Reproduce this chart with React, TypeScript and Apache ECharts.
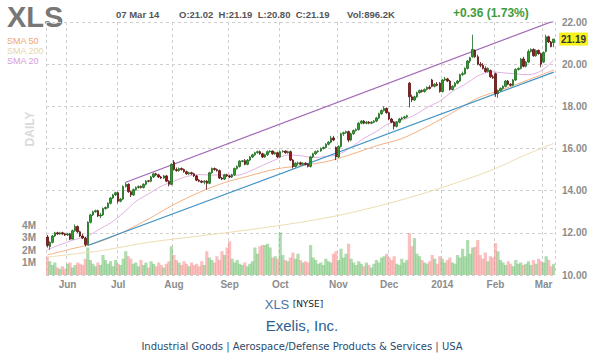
import React, { useEffect, useRef } from "react";
import * as echarts from "echarts";

// ---------- DATA ----------
const START = "2013-05-21";
const END = "2014-03-07";
const HOLIDAYS = ["2013-05-27", "2013-07-04", "2013-09-02", "2013-11-28", "2013-12-25", "2014-01-01", "2014-01-20", "2014-02-17"];
const MONTHS = ["Jan", "Feb", "Mar", "Apr", "May", "Jun", "Jul", "Aug", "Sep", "Oct", "Nov", "Dec"];

const opens = [
  11.80, 11.35, 11.55, 11.85, 12.00, 11.95, 12.00, 11.95, 11.90, 11.95,
  11.70, 12.10, 12.30, 12.05, 11.85, 11.75, 11.45, 12.50, 12.85, 13.00,
  13.05, 12.80, 12.85, 13.15, 13.20, 13.40, 13.65, 13.80, 13.90, 13.50,
  13.60, 14.20, 14.30, 13.95, 13.80, 14.05, 14.15, 14.20, 14.15, 14.30,
  14.47, 14.45, 14.65, 14.80, 14.75, 14.65, 14.60, 14.70, 14.45, 14.30,
  15.35, 15.00, 14.95, 15.05, 15.00, 14.90, 14.80, 14.85, 14.80, 14.70,
  14.50, 14.45, 14.40, 14.45, 14.35, 14.85, 15.05, 15.00, 14.95, 14.60,
  14.55, 14.75, 14.70, 14.65, 14.75, 15.05, 15.15, 15.38, 15.42, 15.25,
  15.45, 15.60, 15.70, 15.80, 15.85, 15.75, 15.60, 15.70, 15.85, 15.88,
  15.75, 15.80, 15.60, 15.85, 15.88, 15.80, 15.85, 15.45, 15.15, 15.30,
  15.32, 15.25, 15.30, 15.25, 15.15, 15.60, 15.75, 15.85, 15.88, 16.00,
  16.05, 16.20, 16.30, 16.50, 16.05, 15.60, 16.10, 16.70, 16.75, 16.80,
  16.40, 16.70, 16.85, 16.90, 17.20, 17.30, 17.20, 17.25, 17.20, 17.25,
  17.30, 17.45, 17.65, 17.80, 17.90, 17.70, 17.40, 17.25, 17.05, 17.25,
  17.40, 17.45, 17.50, 19.10, 18.45, 18.30, 18.45, 18.65, 18.75, 18.70,
  18.80, 18.90, 19.25, 18.95, 19.05, 19.10, 18.70, 19.25, 19.30, 19.20,
  18.80, 18.95, 19.10, 19.20, 19.50, 19.55, 19.80, 20.15, 20.35, 20.65,
  20.35, 20.00, 19.95, 19.80, 19.65, 19.70, 19.40, 19.55, 18.60, 18.75,
  18.85, 18.95, 19.20, 19.05, 19.00, 19.25, 19.75, 19.80, 20.25, 19.90,
  20.10, 20.60, 20.70, 20.40, 20.65, 20.50, 20.10, 20.60, 21.30, 21.05,
  21.02,
];
const closes = [
  11.40, 11.55, 11.85, 12.00, 11.95, 12.00, 11.95, 11.90, 11.95, 11.70,
  12.10, 12.30, 12.05, 11.85, 11.75, 11.45, 12.50, 12.85, 13.00, 13.05,
  12.80, 12.85, 13.15, 13.20, 13.40, 13.65, 13.80, 13.90, 13.50, 13.60,
  14.20, 14.30, 13.95, 13.80, 14.05, 14.15, 14.20, 14.15, 14.30, 14.45,
  14.45, 14.65, 14.80, 14.75, 14.65, 14.60, 14.70, 14.45, 14.30, 15.25,
  15.00, 14.95, 15.05, 15.00, 14.90, 14.80, 14.85, 14.80, 14.70, 14.50,
  14.45, 14.40, 14.45, 14.35, 14.85, 15.05, 15.00, 14.95, 14.60, 14.55,
  14.75, 14.70, 14.65, 14.75, 15.05, 15.15, 15.40, 15.42, 15.25, 15.45,
  15.60, 15.70, 15.80, 15.85, 15.75, 15.60, 15.70, 15.85, 15.88, 15.75,
  15.80, 15.60, 15.85, 15.88, 15.80, 15.85, 15.45, 15.15, 15.30, 15.32,
  15.25, 15.30, 15.25, 15.15, 15.60, 15.75, 15.85, 15.88, 16.00, 16.05,
  16.20, 16.30, 16.50, 16.40, 15.60, 16.10, 16.70, 16.75, 16.80, 16.40,
  16.70, 16.85, 16.90, 17.20, 17.30, 17.20, 17.25, 17.20, 17.25, 17.30,
  17.45, 17.65, 17.80, 17.90, 17.70, 17.40, 17.25, 17.05, 17.25, 17.40,
  17.45, 17.50, 17.55, 18.45, 18.30, 18.45, 18.65, 18.75, 18.70, 18.80,
  18.90, 18.85, 18.95, 19.05, 19.00, 18.70, 19.25, 19.30, 19.20, 18.80,
  18.95, 19.10, 19.20, 19.50, 19.55, 19.80, 20.15, 20.30, 20.70, 20.35,
  20.00, 19.95, 19.80, 19.65, 19.80, 19.40, 19.35, 18.60, 18.75, 18.85,
  18.95, 19.20, 19.05, 19.00, 19.25, 19.75, 19.80, 20.25, 19.90, 20.10,
  20.60, 20.70, 20.40, 20.65, 20.50, 20.00, 20.55, 21.30, 21.05, 20.83,
  21.19,
];
const lows = [
  11.30, 11.20, 11.50, 11.80, 11.90, 11.90, 11.90, 11.85, 11.85, 11.65,
  11.70, 12.05, 12.00, 11.80, 11.70, 11.35, 11.40, 12.45, 12.80, 12.95,
  12.75, 12.70, 12.80, 13.10, 13.15, 13.35, 13.60, 13.75, 13.40, 13.45,
  13.55, 14.15, 13.90, 13.70, 13.75, 14.00, 14.10, 14.10, 14.10, 14.25,
  14.40, 14.40, 14.60, 14.70, 14.60, 14.55, 14.55, 14.40, 14.20, 14.25,
  14.95, 14.90, 14.90, 14.95, 14.85, 14.75, 14.75, 14.75, 14.65, 14.45,
  14.40, 14.35, 14.30, 14.05, 14.30, 14.80, 14.95, 14.90, 14.55, 14.50,
  14.50, 14.65, 14.60, 14.60, 14.70, 15.00, 15.10, 15.35, 15.20, 15.20,
  15.40, 15.55, 15.65, 15.75, 15.70, 15.55, 15.55, 15.65, 15.80, 15.70,
  15.70, 15.55, 15.55, 15.80, 15.75, 15.75, 15.40, 15.05, 15.10, 15.20,
  15.20, 15.20, 15.20, 15.10, 15.10, 15.55, 15.70, 15.80, 15.85, 15.95,
  16.00, 16.15, 16.25, 16.35, 15.45, 15.55, 16.05, 16.60, 16.70, 16.30,
  16.35, 16.65, 16.80, 16.85, 17.15, 17.15, 17.15, 17.15, 17.15, 17.20,
  17.25, 17.40, 17.60, 17.75, 17.65, 17.35, 17.20, 16.90, 17.00, 17.20,
  17.35, 17.40, 17.45, 17.95, 18.20, 18.25, 18.40, 18.60, 18.65, 18.65,
  18.75, 18.80, 18.90, 18.90, 18.95, 18.65, 18.65, 19.20, 19.15, 18.75,
  18.75, 18.90, 19.05, 19.15, 19.45, 19.50, 19.75, 20.05, 20.30, 20.30,
  19.95, 19.85, 19.75, 19.60, 19.60, 19.35, 19.30, 18.45, 18.40, 18.70,
  18.80, 18.90, 19.00, 18.95, 18.95, 19.20, 19.70, 19.75, 19.85, 19.85,
  20.05, 20.55, 20.35, 20.35, 20.45, 19.85, 20.05, 20.55, 21.00, 20.80,
  20.80,
];
const highs = [
  11.90, 11.60, 11.90, 12.05, 12.05, 12.05, 12.05, 12.00, 12.00, 12.00,
  12.15, 12.40, 12.35, 12.10, 11.95, 11.80, 12.55, 12.90, 13.05, 13.10,
  13.10, 12.95, 13.20, 13.25, 13.45, 13.70, 13.85, 13.95, 13.95, 13.65,
  14.25, 14.40, 14.35, 14.00, 14.10, 14.20, 14.25, 14.25, 14.35, 14.50,
  14.50, 14.70, 14.85, 14.85, 14.80, 14.70, 14.75, 14.75, 14.50, 15.30,
  15.45, 15.10, 15.10, 15.10, 15.05, 14.95, 14.90, 14.90, 14.85, 14.75,
  14.55, 14.50, 14.50, 14.50, 14.90, 15.10, 15.10, 15.05, 15.00, 14.65,
  14.80, 14.80, 14.75, 14.80, 15.10, 15.20, 15.45, 15.45, 15.50, 15.50,
  15.65, 15.75, 15.85, 15.90, 15.90, 15.80, 15.75, 15.90, 15.92, 15.90,
  15.85, 15.85, 15.90, 15.92, 15.90, 15.90, 15.90, 15.50, 15.35, 15.38,
  15.38, 15.35, 15.35, 15.30, 15.65, 15.80, 15.90, 15.92, 16.05, 16.10,
  16.25, 16.35, 16.60, 16.60, 16.10, 16.15, 16.75, 16.80, 16.85, 16.85,
  16.75, 16.90, 16.95, 17.25, 17.35, 17.35, 17.30, 17.30, 17.30, 17.35,
  17.50, 17.70, 17.85, 18.00, 17.95, 17.75, 17.45, 17.30, 17.30, 17.45,
  17.50, 17.55, 17.60, 19.15, 18.55, 18.50, 18.70, 18.80, 18.80, 18.85,
  18.95, 19.00, 19.30, 19.10, 19.15, 19.15, 19.30, 19.40, 19.35, 19.25,
  19.00, 19.15, 19.25, 19.55, 19.65, 19.85, 20.20, 20.35, 21.40, 20.70,
  20.45, 20.10, 20.05, 19.90, 19.85, 19.75, 19.50, 19.60, 18.80, 18.90,
  19.00, 19.25, 19.25, 19.10, 19.30, 19.80, 19.85, 20.30, 20.35, 20.15,
  20.70, 20.75, 20.75, 20.70, 20.70, 20.55, 20.60, 21.40, 21.35, 21.10,
  21.19,
];
// volume in millions
const volumes = [
  1.45, 1.1, 0.8, 1.0, 0.6, 0.5, 0.7, 0.5, 0.9, 1.0,
  0.6, 0.8, 1.0, 0.9, 0.8, 1.3, 2.2, 1.2, 0.9, 0.7,
  1.0, 0.8, 1.6, 1.2, 0.9, 1.1, 0.7, 1.2, 0.9, 0.8,
  1.3, 1.9, 1.5, 1.3, 0.9, 1.0, 0.7, 1.2, 0.8, 1.0,
  0.6, 1.1, 0.9, 0.7, 1.0, 0.8, 0.6, 0.9, 1.1, 2.3,
  1.6, 1.2, 1.0, 0.8, 1.1, 0.9, 0.7, 1.0, 0.8, 0.9,
  0.7, 1.1, 0.8, 1.9, 1.4, 1.2, 1.0, 1.5, 1.2, 1.9,
  1.6, 2.2, 2.7, 1.3, 1.0, 1.2, 0.9, 0.8, 1.0, 0.7,
  0.9, 1.1, 2.2, 1.7, 2.3, 2.4, 2.4, 2.5, 2.2, 1.4,
  1.5, 1.3, 3.4, 1.6, 1.2, 1.1, 1.4, 1.8, 1.3, 1.7,
  1.2, 1.0, 1.1, 1.0, 2.4, 1.4, 1.2, 0.9, 1.0, 0.8,
  1.3, 1.1, 1.0, 1.7, 1.9, 1.2, 2.1, 1.4, 1.7, 2.5,
  1.3, 1.0, 0.8, 1.1, 0.9, 0.7, 1.0, 0.8, 0.6, 0.9,
  1.2, 1.0, 1.4, 1.5, 1.7, 1.4, 1.2, 1.5, 0.9, 0.8,
  1.3, 1.0, 1.2, 3.35, 2.3, 2.95, 1.7, 1.5, 1.2, 1.0,
  0.9, 1.1, 1.6, 1.3, 0.9, 1.5, 1.3, 1.0, 1.2, 1.4,
  1.0, 0.9, 1.6, 1.4, 2.1, 1.5, 2.8, 1.7, 2.2, 2.25,
  2.8, 1.6, 1.3, 1.8, 1.1, 1.5, 1.4, 2.55, 1.9, 1.2,
  1.0, 0.8, 1.1, 0.9, 0.7, 1.2, 0.9, 1.0, 0.8, 0.9,
  1.1, 0.8, 1.2, 0.9, 1.3, 1.1, 1.0, 1.5, 1.2, 0.7,
  0.8962,
];

// moving averages at sample days: [dayIndex, value]
const sma20Idx = [0, 10, 16, 20, 25, 30, 35, 40, 45, 50, 55, 60, 65, 70, 75, 80, 85, 90, 95, 100, 105, 110, 115, 120, 125, 130, 135, 140, 145, 150, 155, 160, 165, 170, 175, 180, 185, 190, 195, 200];
const sma20Val = [11.2, 11.65, 11.85, 12.13, 12.47, 12.94, 13.49, 13.85, 14.21, 14.45, 14.67, 14.76, 14.74, 14.75, 14.73, 14.92, 15.2, 15.46, 15.69, 15.66, 15.57, 15.62, 15.72, 16.06, 16.48, 16.81, 17.19, 17.34, 17.58, 17.95, 18.25, 18.71, 19.05, 19.44, 19.64, 19.59, 19.54, 19.5, 19.68, 20.2];
const sma50Idx = [0, 10, 20, 30, 40, 50, 60, 70, 80, 90, 100, 110, 120, 130, 140, 150, 160, 170, 180, 190, 200];
const sma50Val = [10.95, 11.25, 11.55, 12.04, 12.66, 13.34, 13.92, 14.38, 14.71, 15.02, 15.19, 15.37, 15.72, 16.13, 16.47, 17.04, 17.7, 18.39, 18.81, 19.26, 19.72];
const sma200Idx = [0, 21, 40, 60, 80, 100, 116, 135, 148, 156, 167, 177, 187, 200];
const sma200Val = [10.85, 11.15, 11.55, 11.85, 12.15, 12.5, 12.85, 13.4, 13.85, 14.15, 14.6, 15.05, 15.6, 16.25];

// trend lines: [dayIndex, price]
const supportLine = [[16, 11.4], [200, 19.62]];
const resistanceLine = [[31, 14.4], [200, 22.05]];

const priceTicks = { min: 10, max: 22, step: 2 };
const volumeTicks = { max: 8, step: 1, shown: [1, 2, 3, 4] };

// ---------- HELPERS ----------
function buildDates(): string[] {
  const out: string[] = [];
  const d = new Date(START + "T00:00:00Z");
  const end = new Date(END + "T00:00:00Z");
  while (d.getTime() <= end.getTime()) {
    const dow = d.getUTCDay();
    const s = d.toISOString().slice(0, 10);
    if (dow !== 0 && dow !== 6 && HOLIDAYS.indexOf(s) < 0) out.push(s);
    d.setUTCDate(d.getUTCDate() + 1);
  }
  return out;
}

const FONT = "'Liberation Sans', Arial, sans-serif";

export default function App() {
  const ref = useRef<HTMLDivElement>(null);

  useEffect(() => {
    if (!ref.current) return;
    const chart = echarts.init(ref.current, undefined, { renderer: "svg" });
    const dates = buildDates();
    const isMonthStart = (i: number) => i > 0 && i < dates.length && dates[i].slice(5, 7) !== dates[i - 1].slice(5, 7);
    const fmtMonth = (v: string) => {
      const m = parseInt(v.slice(5, 7), 10);
      return m === 1 ? v.slice(0, 4) : MONTHS[m - 1];
    };
    const n = closes.length;
    const last = n - 1;
    const lastDate = dates[dates.length - 1];
    const dateText = `${lastDate.slice(8, 10)} ${MONTHS[parseInt(lastDate.slice(5, 7), 10) - 1]} ${lastDate.slice(2, 4)}`;
    const ohlcText = `O:${opens[last].toFixed(2)}  H:${highs[last].toFixed(2)}  L:${lows[last].toFixed(2)}  C:${closes[last].toFixed(2)}`;
    const volText = `Vol:${(volumes[last] * 1000).toFixed(1)}K`;
    const chg = closes[last] - closes[last - 1];
    const chgText = `${chg >= 0 ? "+" : ""}${chg.toFixed(2)} (${((chg / closes[last - 1]) * 100).toFixed(2)}%)`;

    const candleData = opens.map((o, i) => [o, closes[i], lows[i], highs[i]]);
    const volData = volumes.map((v, i) => ({
      value: v,
      itemStyle: { color: closes[i] >= opens[i] ? "rgba(95,185,95,0.5)" : "rgba(245,130,130,0.5)" },
    }));
    const pts = (idx: number[], val: number[]) => idx.map((x, k) => [x, val[k]]);

    const grid = { color: "#cfcfcf", type: [3, 3] as number[] };

    chart.setOption({
      animation: false,
      backgroundColor: "#ffffff",
      grid: [
        { left: 46, right: 49, top: 22, bottom: 79 },
        { left: 46, right: 49, bottom: 79, height: 100 },
      ],
      xAxis: [
        {
          type: "category",
          data: dates,
          gridIndex: 0,
          boundaryGap: true,
          axisLine: { show: false },
          axisTick: { show: false },
          axisLabel: {
            interval: (i: number) => isMonthStart(i),
            formatter: (v: string) => fmtMonth(v),
            color: "#8c8c8c",
            fontWeight: "bold",
            fontSize: 10,
            fontFamily: FONT,
            margin: 4,
          },
          splitLine: { show: true, interval: (i: number) => i === 0 || isMonthStart(i), lineStyle: grid },
        },
        { type: "category", data: dates, gridIndex: 1, boundaryGap: true, show: false },
      ],
      yAxis: [
        {
          type: "value",
          gridIndex: 0,
          position: "right",
          min: priceTicks.min,
          max: priceTicks.max,
          interval: priceTicks.step,
          axisLine: { show: false },
          axisTick: { show: false },
          axisLabel: {
            formatter: (v: number) => v.toFixed(2),
            color: "#8c8c8c",
            fontWeight: "bold",
            fontSize: 10,
            fontFamily: FONT,
            margin: 7,
          },
          splitLine: { show: true, lineStyle: grid },
        },
        {
          type: "value",
          gridIndex: 1,
          position: "left",
          min: 0,
          max: volumeTicks.max,
          interval: volumeTicks.step,
          axisLine: { show: false },
          axisTick: { show: false },
          splitLine: { show: false },
          axisLabel: {
            formatter: (v: number) => (volumeTicks.shown.indexOf(v) >= 0 ? `${v}M` : ""),
            color: "#8c8c8c",
            fontWeight: "bold",
            fontSize: 10,
            fontFamily: FONT,
            margin: 10,
          },
        },
      ],
      series: [
        { type: "bar", xAxisIndex: 1, yAxisIndex: 1, data: volData, barWidth: 3.2, z: 1 },
        { type: "line", data: pts(sma200Idx, sma200Val), smooth: 0.3, showSymbol: false, lineStyle: { color: "#eedcb2", width: 1 }, z: 2 },
        { type: "line", data: pts(sma50Idx, sma50Val), smooth: 0.3, showSymbol: false, lineStyle: { color: "#f2b184", width: 1 }, z: 2 },
        { type: "line", data: pts(sma20Idx, sma20Val), smooth: 0.3, showSymbol: false, lineStyle: { color: "#e2b0e2", width: 1 }, z: 2 },
        { type: "line", data: supportLine, showSymbol: false, lineStyle: { color: "#3f93c6", width: 1.2 }, z: 3 },
        { type: "line", data: resistanceLine, showSymbol: false, lineStyle: { color: "#a066b8", width: 1.2 }, z: 3 },
        {
          type: "candlestick",
          data: candleData,
          barWidth: 2,
          z: 4,
          itemStyle: {
            color: "#2f9e2f",
            color0: "#9a1a1a",
            borderColor: "#1d6a1d",
            borderColor0: "#5a1010",
            borderWidth: 0.8,
          },
          markLine: {
            silent: true,
            symbol: "none",
            lineStyle: { color: "rgba(0,0,0,0)", width: 0 },
            data: [{ yAxis: closes[last] }],
            label: {
              show: true,
              position: "end",
              distance: 4,
              formatter: () => closes[last].toFixed(2),
              backgroundColor: "#f7f21a",
              color: "#333333",
              fontWeight: "bold",
              fontSize: 10,
              fontFamily: FONT,
              padding: [2, 2, 1, 2],
            },
          },
        },
      ],
      graphic: [
        { type: "text", x: 7, y: 17, style: { text: "XLS", fontSize: 29, fontWeight: "bold", fontFamily: FONT, fill: "#777777", verticalAlign: "middle" } },
        { type: "text", x: 7, y: 41, style: { text: "SMA 50", fontSize: 9, fontFamily: FONT, fill: "#f0a56e", verticalAlign: "middle" } },
        { type: "text", x: 7, y: 51, style: { text: "SMA 200", fontSize: 9, fontFamily: FONT, fill: "#e6d6a8", verticalAlign: "middle" } },
        { type: "text", x: 7, y: 61, style: { text: "SMA 20", fontSize: 9, fontFamily: FONT, fill: "#d99ad9", verticalAlign: "middle" } },
        { type: "text", x: 30, y: 129, rotation: Math.PI / 2, style: { text: "DAILY", fontSize: 12, fontWeight: "bold", fontFamily: FONT, fill: "#dadada", align: "center", verticalAlign: "middle" } },
        { type: "text", x: 116, y: 14, style: { text: dateText, fontSize: 9.5, fontWeight: "bold", fontFamily: FONT, fill: "#555555", verticalAlign: "middle" } },
        { type: "text", x: 179, y: 14, style: { text: ohlcText, fontSize: 9.5, fontWeight: "bold", fontFamily: FONT, fill: "#555555", verticalAlign: "middle" } },
        { type: "text", x: 347, y: 14, style: { text: volText, fontSize: 9.5, fontWeight: "bold", fontFamily: FONT, fill: "#555555", verticalAlign: "middle" } },
        { type: "text", x: 453, y: 13, style: { text: chgText, fontSize: 12, fontWeight: "bold", fontFamily: FONT, fill: "#3d9b3d", verticalAlign: "middle" } },
        {
          type: "text",
          x: 294,
          y: 304,
          style: {
            text: "{a|XLS} {b|[NYSE]}",
            align: "center",
            verticalAlign: "middle",
            rich: {
              a: { fontSize: 13, fontFamily: FONT, fill: "#4a74a0", color: "#4a74a0" },
              b: { fontSize: 9, fontFamily: "'DejaVu Sans', sans-serif", fill: "#222222", color: "#222222" },
            },
          },
        },
        { type: "text", x: 302, y: 325, style: { text: "Exelis, Inc.", fontSize: 15, fontFamily: FONT, fill: "#2b5f93", align: "center", verticalAlign: "middle" } },
        { type: "text", x: 302, y: 346, style: { text: "Industrial Goods | Aerospace/Defense Products & Services | USA", fontSize: 10, fontFamily: "'DejaVu Sans', sans-serif", fill: "#2c4b6b", align: "center", verticalAlign: "middle" } },
      ],
    });
    return () => chart.dispose();
  }, []);

  return <div ref={ref} style={{ position: "fixed", left: 0, top: 0, width: 604, height: 354, background: "#fff" }} />;
}
